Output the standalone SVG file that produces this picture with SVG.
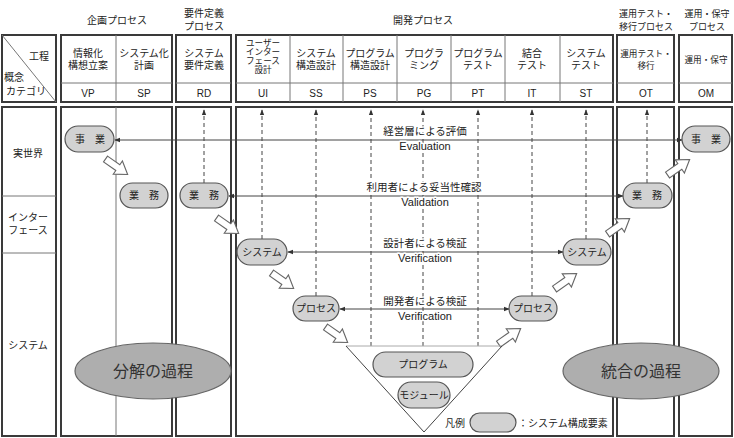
<svg xmlns="http://www.w3.org/2000/svg" width="734" height="438" viewBox="0 0 734 438">
<style>
.box{fill:#fff;stroke:#3a3a3a;stroke-width:2}
.thin{stroke:#777;stroke-width:1;fill:none}
.node{fill:#d2d2d2;stroke:#555;stroke-width:1.2}
.big{fill:#aeaeae;stroke:#666;stroke-width:1.2}
.t{font-family:"Liberation Sans","Noto Sans CJK JP",sans-serif;font-size:10px;fill:#222;text-anchor:middle}
.s{font-size:8.6px}
.h9{font-size:9px}
.lbl{font-size:10.5px;stroke:#fff;stroke-width:3;paint-order:stroke;stroke-linejoin:round}
.en{font-size:11px}
.e{font-size:16px;fill:#333}
.dash{stroke:#444;stroke-width:1;stroke-dasharray:4 3;fill:none}
.hl{stroke:#444;stroke-width:1;fill:none}
.ba{fill:#fff;stroke:#666;stroke-width:1.1}
</style>
<defs>
<marker id="ah" viewBox="0 0 8 8" refX="7" refY="4" markerWidth="6" markerHeight="6" orient="auto-start-reverse" markerUnits="userSpaceOnUse">
<path d="M0,1 L8,4 L0,7 Z" fill="#333"/>
</marker>
<path id="barrow" d="M-14,-3.5 L1,-3.5 L1,-8 L13,0 L1,8 L1,3.5 L-14,3.5 Z"/>
</defs>

<g id="header-labels">
<text class="t" x="117" y="24">企画プロセス</text>
<text class="t" x="204" y="17">要件定義</text>
<text class="t" x="204" y="30">プロセス</text>
<text class="t" x="423" y="24">開発プロセス</text>
<text class="t h9" x="646" y="17">運用テスト・</text>
<text class="t h9" x="646" y="30">移行プロセス</text>
<text class="t h9" x="707" y="17">運用・保守</text>
<text class="t h9" x="707" y="30">プロセス</text>
</g>

<g id="header-boxes">
<rect class="box" x="2" y="35" width="54" height="67"/>
<line class="thin" x1="2" y1="35" x2="56" y2="102"/>
<text class="t" x="39" y="60">工程</text>
<text class="t" x="14" y="81">概念</text>
<text class="t" x="26" y="95">カテゴリ</text>

<rect class="box" x="61" y="35" width="111" height="67"/>
<rect class="box" x="176" y="35" width="55" height="67"/>
<rect class="box" x="236" y="35" width="377" height="67"/>
<rect class="box" x="617" y="35" width="57" height="67"/>
<rect class="box" x="679" y="35" width="53" height="67"/>
<g class="thin">
<line x1="61" y1="83" x2="172" y2="83"/>
<line x1="176" y1="83" x2="231" y2="83"/>
<line x1="236" y1="83" x2="613" y2="83"/>
<line x1="617" y1="83" x2="674" y2="83"/>
<line x1="679" y1="83" x2="732" y2="83"/>
<line x1="116" y1="35" x2="116" y2="102"/>
<line x1="290" y1="35" x2="290" y2="102"/>
<line x1="343" y1="35" x2="343" y2="102"/>
<line x1="397" y1="35" x2="397" y2="102"/>
<line x1="451" y1="35" x2="451" y2="102"/>
<line x1="505" y1="35" x2="505" y2="102"/>
<line x1="560" y1="35" x2="560" y2="102"/>
</g>
<text class="t" x="88" y="57">情報化</text>
<text class="t" x="88" y="69">構想立案</text>
<text class="t" x="144" y="57">システム化</text>
<text class="t" x="144" y="69">計画</text>
<text class="t" x="204" y="57">システム</text>
<text class="t" x="204" y="69">要件定義</text>
<text class="t s" x="263" y="46">ユーザー</text>
<text class="t s" x="263" y="55">インター</text>
<text class="t s" x="263" y="64">フェース</text>
<text class="t s" x="263" y="73">設計</text>
<text class="t" x="316" y="57">システム</text>
<text class="t" x="316" y="69">構造設計</text>
<text class="t" x="370" y="57">プログラム</text>
<text class="t" x="370" y="69">構造設計</text>
<text class="t" x="424" y="57">プログラ</text>
<text class="t" x="424" y="69">ミング</text>
<text class="t" x="478" y="57">プログラム</text>
<text class="t" x="478" y="69">テスト</text>
<text class="t" x="532" y="57">結合</text>
<text class="t" x="532" y="69">テスト</text>
<text class="t" x="586" y="57">システム</text>
<text class="t" x="586" y="69">テスト</text>
<text class="t s" x="646" y="57">運用テスト・</text>
<text class="t s" x="646" y="69">移行</text>
<text class="t s" x="706" y="63">運用・保守</text>
<text class="t" x="88" y="97">VP</text>
<text class="t" x="144" y="97">SP</text>
<text class="t" x="204" y="97">RD</text>
<text class="t" x="263" y="97">UI</text>
<text class="t" x="316" y="97">SS</text>
<text class="t" x="370" y="97">PS</text>
<text class="t" x="424" y="97">PG</text>
<text class="t" x="478" y="97">PT</text>
<text class="t" x="532" y="97">IT</text>
<text class="t" x="586" y="97">ST</text>
<text class="t" x="646" y="97">OT</text>
<text class="t" x="706" y="97">OM</text>
</g>

<g id="body-boxes">
<rect class="box" x="2" y="107" width="54" height="329"/>
<line class="thin" x1="2" y1="196" x2="56" y2="196"/>
<line class="thin" x1="2" y1="253" x2="56" y2="253"/>
<text class="t" x="28" y="157">実世界</text>
<text class="t" x="28" y="221">インター</text>
<text class="t" x="28" y="234">フェース</text>
<text class="t" x="28" y="349">システム</text>
<rect class="box" x="61" y="107" width="111" height="329"/>
<line class="thin" x1="116" y1="107" x2="116" y2="436"/>
<rect class="box" x="176" y="107" width="55" height="329"/>
<rect class="box" x="236" y="107" width="377" height="329"/>
<rect class="box" x="617" y="107" width="57" height="329"/>
<rect class="box" x="679" y="107" width="53" height="329"/>
</g>

<g id="connectors">
<g class="dash" marker-end="url(#ah)">
<line x1="204" y1="183" x2="204" y2="110"/>
<line x1="262" y1="239" x2="262" y2="110"/>
<line x1="316" y1="296" x2="316" y2="110"/>
<line x1="371" y1="346" x2="371" y2="110"/>
<line x1="423" y1="346" x2="423" y2="110"/>
<line x1="478" y1="346" x2="478" y2="110"/>
<line x1="532" y1="296" x2="532" y2="110"/>
<line x1="586" y1="239" x2="586" y2="110"/>
<line x1="647" y1="183" x2="647" y2="110"/>
</g>
<g class="hl" marker-start="url(#ah)" marker-end="url(#ah)">
<line x1="115" y1="140" x2="682" y2="140"/>
<line x1="229" y1="196" x2="623" y2="196"/>
<line x1="288" y1="252" x2="563" y2="252"/>
<line x1="340" y1="309" x2="509" y2="309"/>
</g>
<g class="ba">
<use href="#barrow" transform="translate(117,167) rotate(35)"/>
<use href="#barrow" transform="translate(228,226) rotate(35)"/>
<use href="#barrow" transform="translate(283,281) rotate(35)"/>
<use href="#barrow" transform="translate(337,335) rotate(35)"/>
<use href="#barrow" transform="translate(510,336) rotate(-35)"/>
<use href="#barrow" transform="translate(566,281) rotate(-35)"/>
<use href="#barrow" transform="translate(619,226) rotate(-35)"/>
<use href="#barrow" transform="translate(679,167) rotate(-35)"/>
</g>
<text class="t lbl" x="425" y="135">経営層による評価</text>
<text class="t lbl en" x="425" y="150">Evaluation</text>
<text class="t lbl" x="424" y="191">利用者による妥当性確認</text>
<text class="t lbl en" x="425" y="206">Validation</text>
<text class="t lbl" x="425" y="247">設計者による検証</text>
<text class="t lbl en" x="425" y="262">Verification</text>
<text class="t lbl" x="425" y="305">開発者による検証</text>
<text class="t lbl en" x="425" y="320">Verification</text>
</g>

<g id="triangle">
<line x1="346" y1="346" x2="502" y2="346" stroke="#aaa" stroke-width="1"/>
<path d="M346,346 L424,432 L502,346" fill="none" stroke="#444" stroke-width="1"/>
</g>

<g id="ellipse-decomp">
<ellipse class="big" cx="153" cy="371" rx="78" ry="28"/>
<text class="t e" x="153" y="377">分解の過程</text>
</g>
<g id="ellipse-integ">
<ellipse class="big" cx="641" cy="371" rx="78" ry="28"/>
<text class="t e" x="641" y="377">統合の過程</text>
</g>

<g id="node-jigyo-l"><rect class="node" x="65" y="126" width="49" height="26" rx="13"/><text class="t" x="90" y="143">事　業</text></g>
<g id="node-gyomu-sp"><rect class="node" x="120" y="183" width="48" height="25" rx="12.5"/><text class="t" x="144" y="199">業　務</text></g>
<g id="node-gyomu-rd"><rect class="node" x="180" y="183" width="48" height="25" rx="12.5"/><text class="t" x="204" y="199">業　務</text></g>
<g id="node-system-l"><rect class="node" x="237" y="239" width="50" height="26" rx="13"/><text class="t" x="262" y="256">システム</text></g>
<g id="node-process-l"><rect class="node" x="293" y="296" width="46" height="25" rx="12.5"/><text class="t" x="316" y="312">プロセス</text></g>
<g id="node-program"><rect class="node" x="373" y="352" width="100" height="25" rx="12.5"/><text class="t" x="423" y="368">プログラム</text></g>
<g id="node-module"><rect class="node" x="398" y="382" width="52" height="26" rx="13"/><text class="t" x="424" y="399">モジュール</text></g>
<g id="node-process-r"><rect class="node" x="509" y="296" width="48" height="25" rx="12.5"/><text class="t" x="533" y="312">プロセス</text></g>
<g id="node-system-r"><rect class="node" x="563" y="239" width="48" height="26" rx="13"/><text class="t" x="587" y="256">システム</text></g>
<g id="node-gyomu-ot"><rect class="node" x="623" y="183" width="49" height="25" rx="12.5"/><text class="t" x="647" y="199">業　務</text></g>
<g id="node-jigyo-r"><rect class="node" x="682" y="126" width="48" height="26" rx="13"/><text class="t" x="706" y="143">事　業</text></g>

<g id="legend">
<text class="t" x="455" y="427">凡例</text>
<rect class="node" x="470" y="413" width="46" height="19" rx="9.5"/>
<text class="t" x="518" y="427" style="text-anchor:start">：システム構成要素</text>
</g>
</svg>
